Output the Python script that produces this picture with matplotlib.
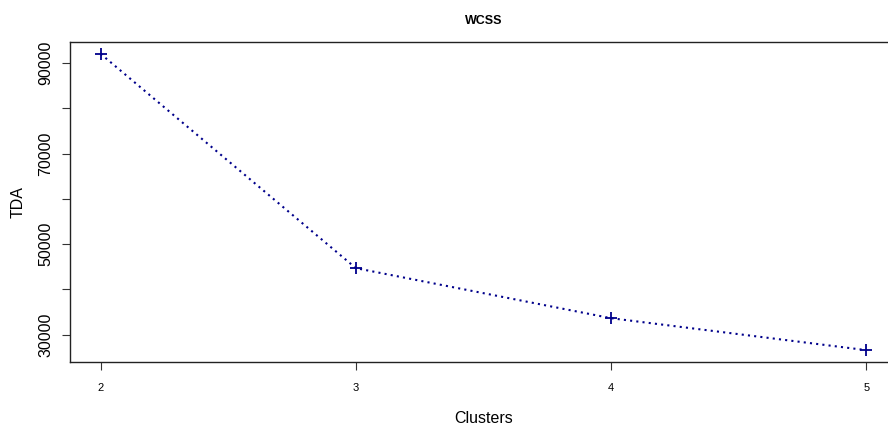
import matplotlib
matplotlib.use("Agg")
import matplotlib.pyplot as plt

plt.rcParams["font.family"] = ["Liberation Sans", "DejaVu Sans"]

# Werte
clusters = [2, 3, 4, 5]
wcss = [92000, 44700, 33650, 26600]
y_ticks = [30000, 40000, 50000, 60000, 70000, 80000, 90000]
y_labels = ["30000", "", "50000", "", "70000", "", "90000"]

fig = plt.figure(figsize=(8.88, 4.28), dpi=100)
# Plotbereich ragt rechts über den Bildrand hinaus (wie im Original)
ax = fig.add_axes([70 / 888, 66 / 428, 827 / 888, 320 / 428])

ax.plot(clusters, wcss, color="#00008B", linestyle=(0, (1, 2)), linewidth=1.5,
        marker="+", markersize=9, markeredgewidth=1.3)

# R-typische Achsenausdehnung (4 %)
xr = max(clusters) - min(clusters)
yr = max(wcss) - min(wcss)
ax.set_xlim(min(clusters) - 0.04 * xr, max(clusters) + 0.04 * xr)
ax.set_ylim(min(wcss) - 0.04 * yr, max(wcss) + 0.04 * yr)

ax.set_xticks(clusters)
ax.set_xticklabels([str(c) for c in clusters], fontsize=8)
ax.set_yticks(y_ticks)
ax.set_yticklabels(y_labels, fontsize=11.5, rotation=90, va="center")
ax.tick_params(axis="both", length=6, width=0.8, color="#333333")
ax.tick_params(axis="x", pad=9)
ax.tick_params(axis="y", pad=6)

for sp in ax.spines.values():
    sp.set_linewidth(1.0)
    sp.set_color("#222222")

ax.set_xlabel("Clusters", fontsize=11.5, labelpad=13)
ax.set_ylabel("TDA", fontsize=11.5, labelpad=9)
ax.set_title("WCSS", fontsize=9, fontweight="bold", pad=13)

fig.savefig("out.png", dpi=100)
